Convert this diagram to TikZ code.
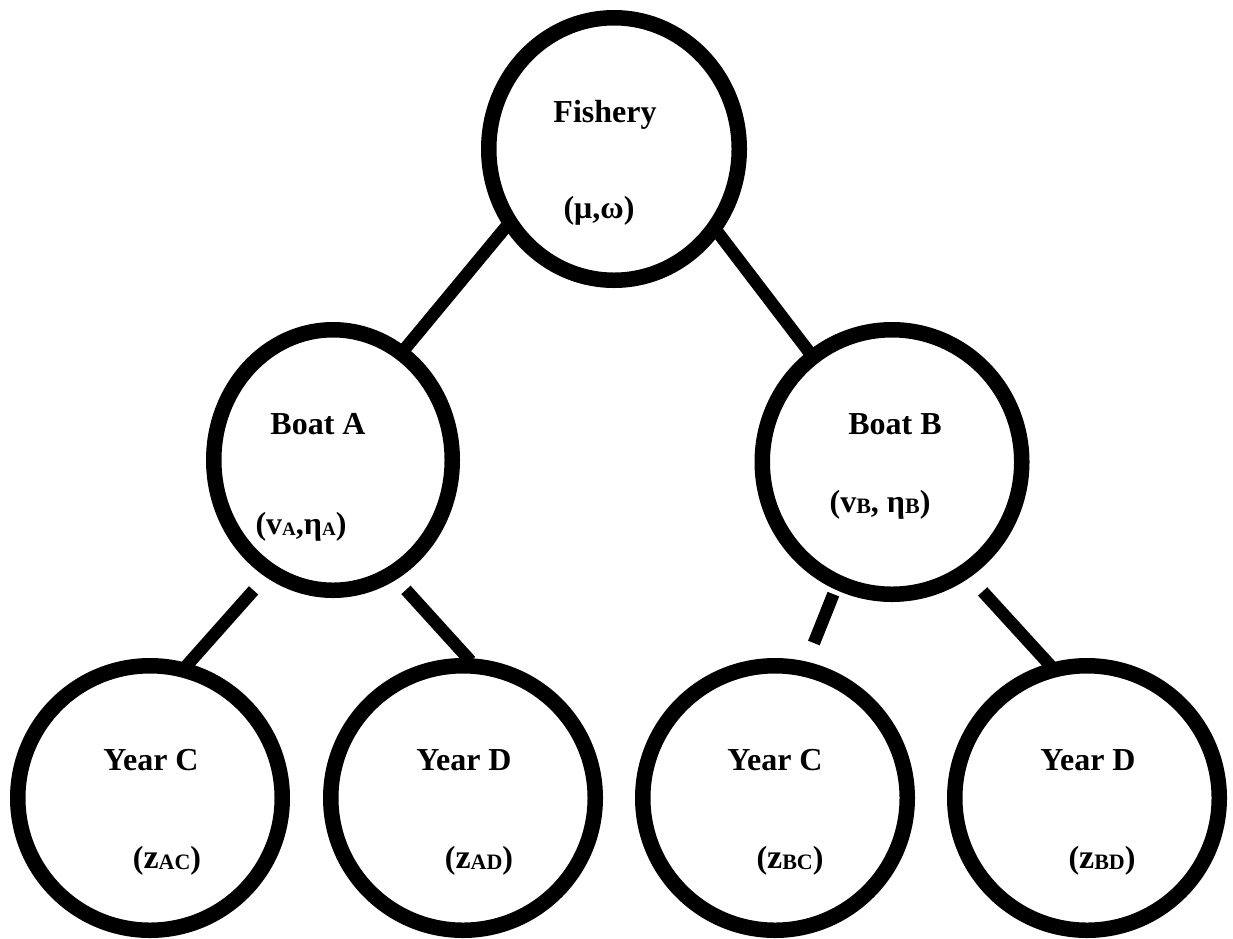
\documentclass[tikz,border=0pt]{standalone}
\usepackage{fontspec}
\setmainfont{Liberation Serif}
\usetikzlibrary{shapes.geometric}

\newcommand{\idx}[2][22]{\raisebox{-1.5pt}{\fontsize{#1}{#1}\selectfont #2}}
\newcommand{\zz}{{\fontsize{34}{34}\selectfont z}}

\begin{document}
\begin{tikzpicture}[
    x=1pt, y=-1pt,
    unit/.style={
        draw=black,
        line width=15.5pt,
        ellipse,
        inner sep=0pt,
    },
    heading/.style={
        font=\fontsize{32}{38}\selectfont\bfseries,
        anchor=base,
        inner sep=0pt,
    },
    param/.style={
        font=\fontsize{32}{38}\selectfont\bfseries,
        anchor=base,
        inner sep=0pt,
    },
    link/.style={
        line width=12.5pt,
    },
]

\useasboundingbox (0, 0) rectangle (1233, 938);

\node[unit, minimum width=250.5pt, minimum height=262.5pt] (fishery) at (614, 149) {};
\node[unit, minimum width=238.5pt, minimum height=260.5pt] (boatA) at (333, 460) {};
\node[unit, minimum width=259.5pt, minimum height=264.5pt] (boatB) at (892, 462) {};
\node[unit, minimum width=264.5pt, minimum height=264.5pt] (yearAC) at (150, 798) {};
\node[unit, minimum width=264.5pt, minimum height=264.5pt] (yearAD) at (463, 798) {};
\node[unit, minimum width=264.5pt, minimum height=264.5pt] (yearBC) at (775, 798) {};
\node[unit, minimum width=264.5pt, minimum height=264.5pt] (yearBD) at (1087, 798) {};

\node[heading] (fisheryT) at (605, 122) {Fishery};
\node[param] (fisheryP) at (599, 218) {(μ,ω)};
\node[heading] (boatAT) at (318, 434) {Boat A};
\node[param] (boatAP) at (301, 534) {(v\idx[19]{A},η\idx[19]{A})};
\node[heading] (boatBT) at (895, 434) {Boat B};
\node[param] (boatBP) at (880, 512) {(v\idx{B}, η\idx{B})};
\node[heading] (yearACT) at (151, 770) {Year C};
\node[param] (yearACP) at (167, 868) {(\zz\idx{AC})};
\node[heading] (yearADT) at (464, 770) {Year D};
\node[param] (yearADP) at (479, 868) {(\zz\idx{AD})};
\node[heading] (yearBCT) at (775, 770) {Year C};
\node[param] (yearBCP) at (790, 868) {(\zz\idx{BC})};
\node[heading] (yearBDT) at (1088, 770) {Year D};
\node[param] (yearBDP) at (1102, 868) {(\zz\idx{BD})};

% tree links
\draw[link, shorten <=-4pt, shorten >=-4pt] (fishery.216) -- (boatA.57);
\draw[link, shorten <=-4pt, shorten >=-4pt] (fishery.321) -- (boatB.127);
\draw[link, shorten <=18pt, shorten >=-4pt] (boatA.240) -- (yearAC.74);
\draw[link, shorten <=14pt, shorten >=-4pt] (boatA.298) -- (yearAD.88);
\draw[link, shorten <=5pt, shorten >=20pt] (boatB.246) -- (yearBC.77);
\draw[link, shorten <=19pt, shorten >=-4pt] (boatB.304) -- (yearBD.106);

\end{tikzpicture}
\end{document}
